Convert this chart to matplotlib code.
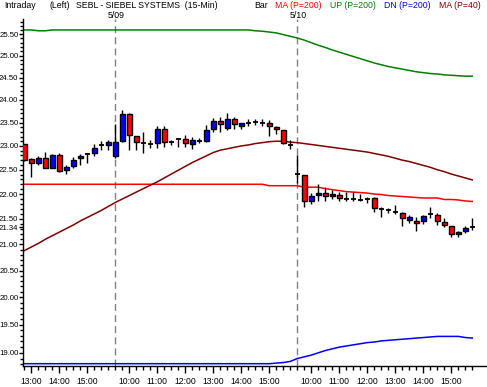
import matplotlib
matplotlib.use("Agg")
import matplotlib.pyplot as plt
from matplotlib.ticker import FixedLocator, NullFormatter

plt.rcParams['font.family'] = ['Liberation Sans', 'DejaVu Sans']

# 15-min bars: 5/08 12:45-15:45, 5/09 and 5/10 9:30-15:45
opens = [23.04, 22.72, 22.65, 22.74, 22.54, 22.81, 22.49, 22.58, 22.74, 22.82, 22.84, 23.02, 23.03,
         22.79, 23.10, 23.68, 23.21, 23.06, 23.05, 23.07, 23.36, 23.08, 23.14, 23.14, 23.05, 23.11, 23.11,
         23.36, 23.54, 23.38, 23.57, 23.43, 23.49, 23.51, 23.49, 23.50, 23.40, 23.34, 23.03,
         22.41, 22.39, 21.85, 21.98, 22.03, 21.96, 21.98, 21.89, 21.89, 21.87, 21.89, 21.91, 21.69, 21.67,
         21.64, 21.61, 21.48, 21.46, 21.45, 21.59, 21.58, 21.43, 21.36, 21.20, 21.26, 21.34]
highs = [23.05, 22.74, 22.78, 22.88, 22.82, 22.86, 22.60, 22.76, 22.83, 22.86, 23.04, 23.10, 23.12,
         23.48, 23.77, 23.70, 23.22, 23.30, 23.13, 23.43, 23.43, 23.13, 23.15, 23.23, 23.19, 23.17, 23.45,
         23.59, 23.63, 23.71, 23.62, 23.50, 23.57, 23.57, 23.57, 23.56, 23.43, 23.34, 23.13,
         22.81, 22.39, 22.03, 22.20, 22.14, 22.08, 22.05, 22.05, 22.05, 22.00, 21.94, 21.94, 21.74, 21.72,
         21.78, 21.63, 21.58, 21.53, 21.58, 21.74, 21.61, 21.51, 21.36, 21.27, 21.37, 21.51]
lows = [22.68, 22.35, 22.59, 22.53, 22.53, 22.46, 22.42, 22.53, 22.60, 22.63, 22.78, 22.91, 22.91,
        22.74, 23.09, 22.91, 22.91, 22.86, 22.95, 22.95, 22.98, 23.03, 22.98, 22.97, 22.93, 23.06, 23.08,
        23.30, 23.30, 23.34, 23.36, 23.36, 23.43, 23.45, 23.43, 23.21, 23.25, 23.04, 22.93,
        22.23, 21.74, 21.80, 21.85, 21.85, 21.89, 21.85, 21.86, 21.86, 21.86, 21.82, 21.63, 21.54, 21.62,
        21.59, 21.36, 21.41, 21.27, 21.40, 21.51, 21.39, 21.35, 21.14, 21.14, 21.22, 21.28]
closes = [22.70, 22.65, 22.74, 22.54, 22.81, 22.48, 22.56, 22.70, 22.79, 22.82, 22.95, 23.02, 23.08,
          23.08, 23.68, 23.23, 23.08, 23.06, 23.05, 23.36, 23.08, 23.08, 23.14, 23.07, 23.12, 23.11, 23.34,
          23.54, 23.47, 23.57, 23.47, 23.49, 23.49, 23.51, 23.49, 23.42, 23.36, 23.06, 23.03,
          22.41, 21.85, 21.96, 22.03, 21.96, 22.00, 21.93, 21.89, 21.89, 21.87, 21.89, 21.71, 21.69, 21.67,
          21.64, 21.52, 21.53, 21.42, 21.56, 21.59, 21.45, 21.39, 21.20, 21.24, 21.33, 21.34]

# indicators
ma200 = [22.20] * 35 + [22.17, 22.17, 22.17, 22.17, 22.17, 22.14, 22.14, 22.14, 22.11, 22.09, 22.07,
                        22.05, 22.04, 22.03, 22.02, 22.00, 21.99, 21.97, 21.96, 21.95, 21.94, 21.93,
                        21.92, 21.92, 21.92, 21.89, 21.89, 21.88, 21.86, 21.85]
up200 = [25.60, 25.60, 25.58, 25.58, 25.60] + [25.60] * 28 + [
    25.58, 25.57, 25.55, 25.53, 25.49, 25.45, 25.41, 25.36, 25.30, 25.24, 25.19, 25.13, 25.08, 25.03,
    24.98, 24.93, 24.88, 24.83, 24.79, 24.75, 24.72, 24.69, 24.66, 24.63, 24.61, 24.59, 24.58, 24.56,
    24.55, 24.54, 24.53, 24.53]
dn200 = [18.81] * 36 + [18.82, 18.83, 18.85, 18.90, 18.93, 18.96, 19.00, 19.04, 19.07, 19.10, 19.12,
                        19.14, 19.16, 19.18, 19.19, 19.21, 19.22, 19.23, 19.24, 19.25, 19.26, 19.27,
                        19.28, 19.29, 19.29, 19.29, 19.29, 19.27, 19.26]
ma40 = [20.88, 20.95, 21.02, 21.10, 21.17, 21.24, 21.31, 21.38, 21.46, 21.53, 21.60, 21.67, 21.75,
        21.83, 21.90, 21.97, 22.04, 22.11, 22.18, 22.25, 22.33, 22.41, 22.49, 22.57, 22.65, 22.72, 22.79,
        22.86, 22.91, 22.94, 22.97, 23.00, 23.02, 23.05, 23.07, 23.09, 23.10, 23.10, 23.08,
        23.07, 23.05, 23.03, 23.01, 22.99, 22.97, 22.95, 22.93, 22.91, 22.89, 22.87, 22.84, 22.81, 22.78,
        22.74, 22.70, 22.67, 22.63, 22.59, 22.55, 22.50, 22.46, 22.41, 22.37, 22.33, 22.29]

# axis labels
hour_pos = [1, 5, 9, 15, 19, 23, 27, 31, 35, 41, 45, 49, 53, 57, 61]
hour_labels = ["13:00", "14:00", "15:00", "10:00", "11:00", "12:00", "13:00", "14:00", "15:00",
               "10:00", "11:00", "12:00", "13:00", "14:00", "15:00"]
day_pos = [13, 39]
day_labels = ["5/09", "5/10"]
ytick_vals = [19.0, 19.5, 20.0, 20.5, 21.0, 21.34, 21.5, 22.0, 22.5, 23.0, 23.5, 24.0, 24.5, 25.0, 25.5]
ytick_labels = ["19.00", "19.50", "20.00", "20.50", "21.00", "21.34", "21.50", "22.00", "22.50",
                "23.00", "23.50", "24.00", "24.50", "25.00", "25.50"]

W, H = 487, 387
fig = plt.figure(figsize=(W / 100, H / 100), dpi=100)
ax = fig.add_axes([23 / W, 21 / H, 464 / W, 347 / H])
ax.set_yscale('log')

xs = list(range(len(opens)))

# bandas y medias
ax.plot(xs, ma200, color="#ff0000", lw=1.1, zorder=2)
ax.plot(xs, up200, color="#008000", lw=1.1, zorder=2)
ax.plot(xs, dn200, color="#0000ff", lw=1.1, zorder=2)
ax.plot(xs, ma40, color="#800000", lw=1.1, zorder=2)

for d in day_pos:
    ax.axvline(d, color="#808080", lw=1, ls=(0, (5, 3)), zorder=1)

# velas
for i in xs:
    o, h, l, c = opens[i], highs[i], lows[i], closes[i]
    ax.vlines(i, l, h, color="black", lw=1, zorder=3)
    if abs(c - o) < 0.005:
        ax.hlines(o, i - 0.35, i + 0.35, color="black", lw=1.3, zorder=4)
    else:
        col = "#0000ff" if c > o else "#ff0000"
        ax.bar(i, abs(c - o), bottom=min(o, c), width=0.66, color=col,
               edgecolor="black", lw=1, zorder=4)

ax.set_xlim(-0.19, 66.1)
ax.set_ylim(18.77, 25.86)

ax.yaxis.set_major_locator(FixedLocator(ytick_vals))
ax.set_yticklabels(ytick_labels)
ax.yaxis.set_minor_locator(FixedLocator([18.8 + 0.1 * k for k in range(71)]))
ax.yaxis.set_minor_formatter(NullFormatter())
ax.tick_params(axis='y', which='major', length=3, width=1, pad=0.3, labelsize=5.6)
ax.tick_params(axis='y', which='minor', length=2, width=1)

ax.set_xticks(hour_pos)
ax.set_xticklabels(hour_labels)
ax.set_xticks(xs, minor=True)
ax.tick_params(axis='x', which='major', length=5, width=1, pad=3, labelsize=6.2)
ax.tick_params(axis='x', which='minor', length=3, width=1)

for s in ["top", "right"]:
    ax.spines[s].set_visible(False)
for s in ["left", "bottom"]:
    ax.spines[s].set_linewidth(1)

# cabecera
def head(x, y, s, color="black"):
    fig.text(x / W, 1 - y / H, s, color=color, fontsize=6.3, ha="left", va="center")

head(4, 5, "Intraday")
head(49, 5, "(Left)")
head(76, 5, "SEBL - SIEBEL SYSTEMS  (15-Min)")
head(254, 5, "Bar")
head(275, 5, "MA (P=200)", "#ff0000")
head(330, 5, "UP (P=200)", "#008000")
head(384, 5, "DN (P=200)", "#0000ff")
head(439, 5, "MA (P=40)", "#800000")
for d, lab in zip(day_pos, day_labels):
    fig.text((24.3 + 7 * d + 1) / W, 1 - 15.5 / H, lab, fontsize=6.3, ha="center", va="center")

fig.savefig("out.png", dpi=100)
